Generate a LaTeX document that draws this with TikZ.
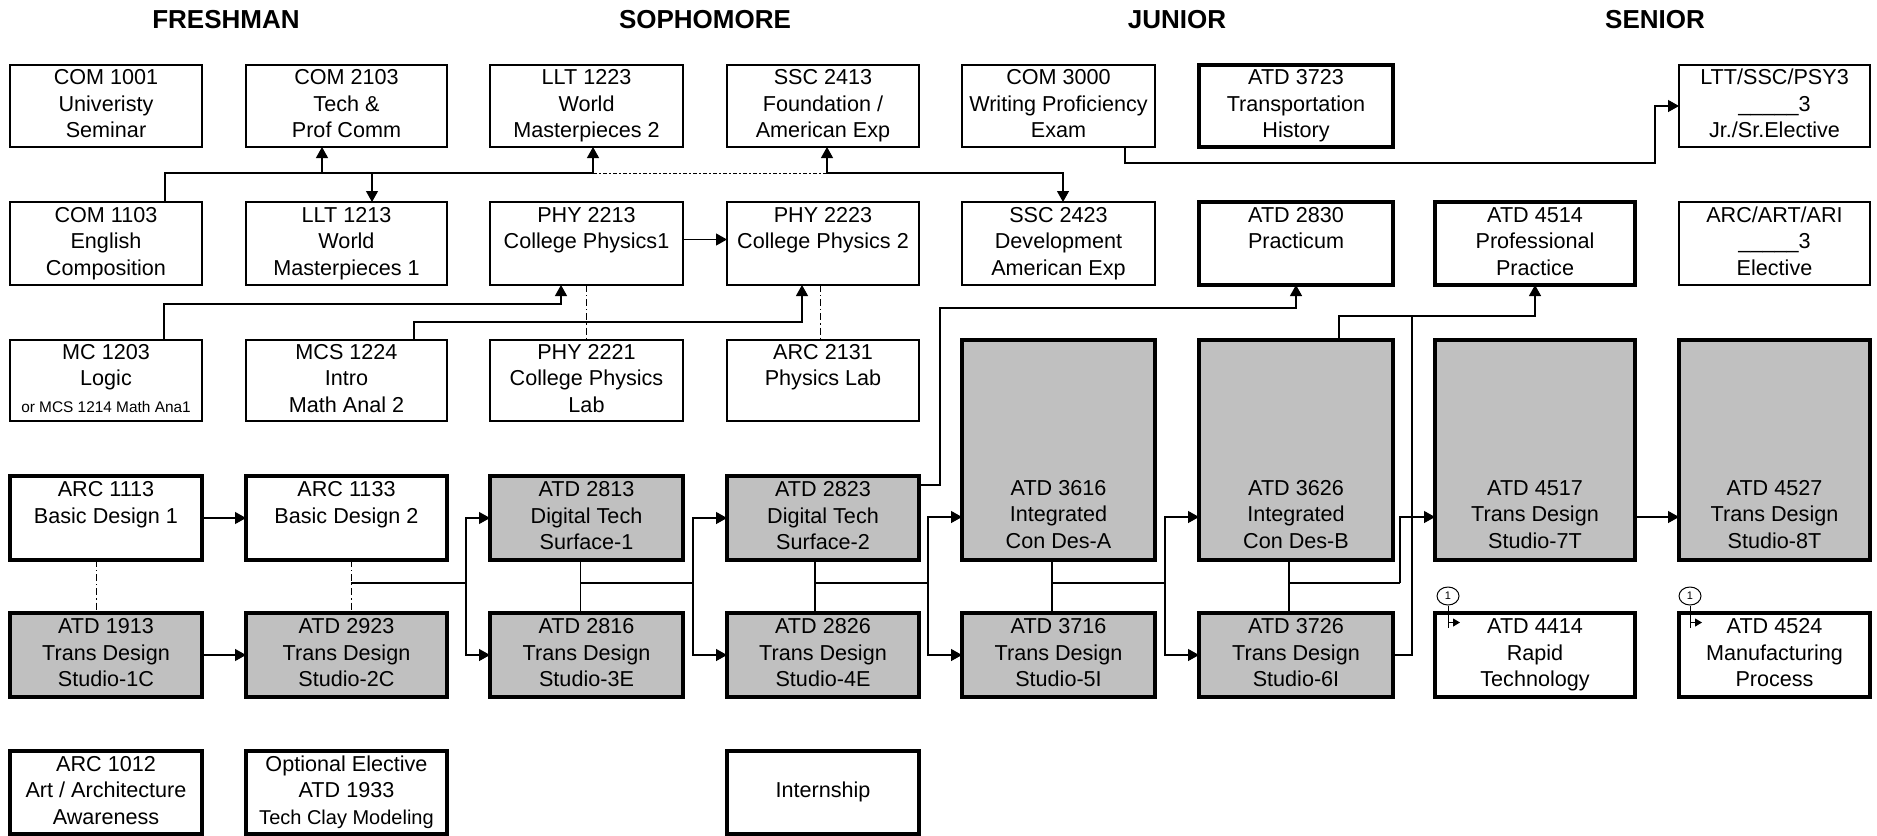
\documentclass[tikz,border=0pt]{standalone}
\usepackage{fontspec}
\setmainfont{Liberation Sans}
\usetikzlibrary{arrows.meta,shapes.geometric}
\definecolor{boxgrey}{RGB}{192,192,192}
\newcommand\tb[1]{\begin{tabular}{@{}c@{}}#1\end{tabular}}
\begin{document}
\begin{tikzpicture}[x=0.5pt,y=-0.5pt,
  box/.style={rectangle, inner sep=0pt, outer sep=0pt, font=\fontsize{10.8}{13.25}\selectfont},
  thinbox/.style={box, draw=black, line width=0.7pt},
  thickbox/.style={box, draw=black, line width=1.8pt},
  greybox/.style={thickbox, fill=boxgrey},
  colA/.style={minimum width=96pt}, colB/.style={minimum width=100.5pt},
  colC/.style={minimum width=96.5pt}, colD/.style={minimum width=96pt},
  colE/.style={minimum width=96.5pt}, colF/.style={minimum width=97pt},
  colG/.style={minimum width=100pt}, colH/.style={minimum width=95.5pt},
  rowA/.style={minimum height=41pt}, rowB/.style={minimum height=41.5pt},
  rowC/.style={minimum height=40.5pt}, rowD/.style={minimum height=42pt},
  rowE/.style={minimum height=42pt}, rowF/.style={minimum height=41.5pt},
  rowT/.style={minimum height=110pt},
  head/.style={font=\fontsize{13}{15}\selectfont\bfseries, inner sep=0pt},
  link/.style={draw=black, line width=0.6pt},
  arr/.style={link, -{Triangle[length=5.5pt,width=6pt]}},
  dashdot/.style={draw=black, line width=0.5pt, dash pattern=on 2pt off 1.2pt on 0.6pt off 1.2pt},
  vdashdot/.style={draw=black, line width=0.5pt, dash pattern=on 3.5pt off 1.5pt on 0.6pt off 1.5pt},
  marker/.style={draw=black, ellipse, line width=0.5pt, inner sep=0pt, minimum width=11pt, minimum height=9pt, font=\fontsize{5.5}{6}\selectfont},
  smallarr/.style={draw=black, line width=0.5pt, -{Triangle[length=3.5pt,width=4pt]}},
]
\useasboundingbox (0,0) rectangle (1877,835);

% headings
\node[head] (hfr) at (226,20) {FRESHMAN};
\node[head] (hso) at (705,20) {SOPHOMORE};
\node[head] (hju) at (1177,20) {JUNIOR};
\node[head] (hse) at (1655,20) {SENIOR};

% row 1
\node[thinbox, colA, rowA] (com1001) at (106,106) {\tb{COM 1001\\Univeristy\\Seminar}};
\node[thinbox, colB, rowA] (com2103) at (346.5,106) {\tb{COM 2103\\Tech \&\\Prof Comm}};
\node[thinbox, colC, rowA] (llt1223) at (586.5,106) {\tb{LLT 1223\\World\\Masterpieces 2}};
\node[thinbox, colD, rowA] (ssc2413) at (823,106) {\tb{SSC 2413\\Foundation /\\American Exp}};
\node[thinbox, colE, rowA] (com3000) at (1058.5,106) {\tb{COM 3000\\Writing Proficiency\\Exam}};
\node[thickbox, colF, rowA] (atd3723) at (1296,106) {\tb{ATD 3723\\Transportation\\History}};
\node[thinbox, colH, rowA] (ltt) at (1774.5,106) {\tb{LTT/SSC/PSY3\\\_\_\_\_\_3\\Jr./Sr.Elective}};

% row 2
\node[thinbox, colA, rowB] (com1103) at (106,243.5) {\tb{COM 1103\\English\\Composition}};
\node[thinbox, colB, rowB] (llt1213) at (346.5,243.5) {\tb{LLT 1213\\World\\Masterpieces 1}};
\node[thinbox, colC, rowB] (phy2213) at (586.5,243.5) {\tb{PHY 2213\\College Physics1\\\mbox{}}};
\node[thinbox, colD, rowB] (phy2223) at (823,243.5) {\tb{PHY 2223\\College Physics 2\\\mbox{}}};
\node[thinbox, colE, rowB] (ssc2423) at (1058.5,243.5) {\tb{SSC 2423\\Development\\American Exp}};
\node[thickbox, colF, rowB] (atd2830) at (1296,243.5) {\tb{ATD 2830\\Practicum\\\mbox{}}};
\node[thickbox, colG, rowB] (atd4514) at (1535,243.5) {\tb{ATD 4514\\Professional\\Practice}};
\node[thinbox, colH, rowB] (arcart) at (1774.5,243.5) {\tb{ARC/ART/ARI\\\_\_\_\_\_3\\Elective}};

% row 3
\node[thinbox, colA, rowC] (mc1203) at (106,380.5) {\tb{MC 1203\\Logic\\\fontsize{7.7}{13.25}\selectfont or MCS 1214 Math Ana1}};
\node[thinbox, colB, rowC] (mcs1224) at (346.5,380.5) {\tb{MCS 1224\\Intro\\Math Anal 2}};
\node[thinbox, colC, rowC] (phy2221) at (586.5,380.5) {\tb{PHY 2221\\College Physics\\Lab}};
\node[thinbox, colD, rowC] (arc2131) at (823,380.5) {\tb{ARC 2131\\Physics Lab\\\mbox{}}};

% tall studios
\node[greybox, colE, rowT] (atd3616) at (1058.5,450) {\tb{\mbox{}\\\mbox{}\\\mbox{}\\\mbox{}\\\mbox{}\\ATD 3616\\Integrated\\Con Des-A}};
\node[greybox, colF, rowT] (atd3626) at (1296,450) {\tb{\mbox{}\\\mbox{}\\\mbox{}\\\mbox{}\\\mbox{}\\ATD 3626\\Integrated\\Con Des-B}};
\node[greybox, colG, rowT] (atd4517) at (1535,450) {\tb{\mbox{}\\\mbox{}\\\mbox{}\\\mbox{}\\\mbox{}\\ATD 4517\\Trans Design\\Studio-7T}};
\node[greybox, colH, rowT] (atd4527) at (1774.5,450) {\tb{\mbox{}\\\mbox{}\\\mbox{}\\\mbox{}\\\mbox{}\\ATD 4527\\Trans Design\\Studio-8T}};

% row 4
\node[thickbox, colA, rowD] (arc1113) at (106,518) {\tb{ARC 1113\\Basic Design 1\\\mbox{}}};
\node[thickbox, colB, rowD] (arc1133) at (346.5,518) {\tb{ARC 1133\\Basic Design 2\\\mbox{}}};
\node[greybox, colC, rowD] (atd2813) at (586.5,518) {\tb{ATD 2813\\Digital Tech\\Surface-1}};
\node[greybox, colD, rowD] (atd2823) at (823,518) {\tb{ATD 2823\\Digital Tech\\Surface-2}};

% row 5
\node[greybox, colA, rowE] (atd1913) at (106,655) {\tb{ATD 1913\\Trans Design\\Studio-1C}};
\node[greybox, colB, rowE] (atd2923) at (346.5,655) {\tb{ATD 2923\\Trans Design\\Studio-2C}};
\node[greybox, colC, rowE] (atd2816) at (586.5,655) {\tb{ATD 2816\\Trans Design\\Studio-3E}};
\node[greybox, colD, rowE] (atd2826) at (823,655) {\tb{ATD 2826\\Trans Design\\Studio-4E}};
\node[greybox, colE, rowE] (atd3716) at (1058.5,655) {\tb{ATD 3716\\Trans Design\\Studio-5I}};
\node[greybox, colF, rowE] (atd3726) at (1296,655) {\tb{ATD 3726\\Trans Design\\Studio-6I}};
\node[thickbox, colG, rowE] (atd4414) at (1535,655) {\tb{ATD 4414\\Rapid\\Technology}};
\node[thickbox, colH, rowE] (atd4524) at (1774.5,655) {\tb{ATD 4524\\Manufacturing\\Process}};

% row 6
\node[thickbox, colA, rowF] (arc1012) at (106,792.5) {\tb{ARC 1012\\Art / Architecture\\Awareness}};
\node[thickbox, colB, rowF] (opt) at (346.5,792.5) {\tb{Optional Elective\\ATD 1933\\\fontsize{10}{13.25}\selectfont Tech Clay Modeling}};
\node[thickbox, colD, rowF] (intern) at (823,792.5) {\tb{Internship}};

% helper coordinates
\coordinate (bus) at (0,173);
\coordinate (mid) at (0,583);
\coordinate (r4) at (0,517);

% bus from COM 1103
\coordinate (sC1103) at ([xshift=29.5pt]com1103.north);
\coordinate (eC2103) at ([xshift=-12.25pt]com2103.south);
\coordinate (eL1213) at ([xshift=12.75pt]llt1213.north);
\coordinate (eL1223) at ([xshift=3.25pt]llt1223.south);
\coordinate (eS2413) at ([xshift=2pt]ssc2413.south);
\coordinate (eS2423) at ([xshift=2.25pt]ssc2423.north);
\draw[link] (sC1103) |- (eL1223 |- bus);
\draw[arr] (eC2103 |- bus) -- (eC2103);
\draw[arr] (eL1213 |- bus) -- (eL1213);
\draw[arr] (eL1223 |- bus) -- (eL1223);
\draw[dashdot] (eL1223 |- bus) -- (eS2413 |- bus);
\draw[arr] (eS2413 |- bus) -- (eS2413);
\draw[arr] (eS2413 |- bus) -| (eS2423);

% COM 3000 -> LTT
\coordinate (w1) at (1655,163);
\draw[arr] ([xshift=33.25pt]com3000.south) |- (w1) |- (ltt.west);

% physics
\draw[arr] ([yshift=2pt]phy2213.east) -- ([yshift=2pt]phy2223.west);
\draw[arr] ([xshift=29pt]mc1203.north) -- ++(0,-36) -| ([xshift=-12.75pt]phy2213.south);
\draw[arr] ([xshift=33.75pt]mcs1224.north) -- ++(0,-18) -| ([xshift=-10.5pt]phy2223.south);
\draw[vdashdot] (phy2213.south) -- (phy2221.north);
\draw[vdashdot] ([xshift=-1.5pt]phy2223.south) -- ([xshift=-1.5pt]arc2131.north);

% design sequence
\draw[vdashdot] ([xshift=-5pt]arc1113.south) -- ([xshift=-5pt]atd1913.north);
\coordinate (d2) at ([xshift=2.25pt]arc1133.south);
\draw[vdashdot] (d2) -- ([xshift=2.25pt]atd2923.north);
\draw[arr] (arc1113.east) -- (arc1133.west);
\draw[arr] (atd1913.east) -- (atd2923.west);

\coordinate (v2) at (466,583);
\draw[link] (d2 |- mid) -- (v2);
\draw[arr] (v2) |- (atd2813.west);
\draw[arr] (v2) |- (atd2816.west);

\coordinate (k3) at ([xshift=-3pt]atd2813.south);
\draw[link] (k3) -- ([xshift=-3pt]atd2816.north);
\coordinate (v3) at (693,583);
\draw[link] (k3 |- mid) -- (v3);
\draw[arr] (v3) |- (atd2823.west);
\draw[arr] (v3) |- (atd2826.west);

\coordinate (k4) at ([xshift=-4pt]atd2823.south);
\draw[link] (k4) -- ([xshift=-4pt]atd2826.north);
\coordinate (v4) at (928,583);
\draw[link] (k4 |- mid) -- (v4);
\draw[arr] (v4) |- (atd3616.west |- r4);
\draw[arr] (v4) |- (atd3716.west);

\coordinate (k5) at ([xshift=-3.25pt]atd3616.south);
\draw[link] (k5) -- ([xshift=-3.25pt]atd3716.north);
\coordinate (v5) at (1165,583);
\draw[link] (k5 |- mid) -- (v5);
\draw[arr] (v5) |- (atd3626.west |- r4);
\draw[arr] (v5) |- (atd3726.west);

\coordinate (k6) at ([xshift=-3.5pt]atd3626.south);
\draw[link] (k6) -- ([xshift=-3.5pt]atd3726.north);
\coordinate (v6) at (1400,583);
\draw[link] (k6 |- mid) -- (v6);
\draw[arr] (v6) |- (atd4517.west |- r4);

\draw[arr] (atd4517.east |- r4) -- (atd4527.west |- r4);

% practicum / professional practice
\coordinate (g1) at (940,308);
\draw[arr] ([yshift=16.5pt]atd2823.east) -| (g1) -| (atd2830.south);
\draw[arr] ([xshift=21.5pt]atd3626.north) -- ++(0,-24) -| (atd4514.south);
\coordinate (i1) at (1412,316);
\draw[link] (atd3726.east) -| (i1);

% markers
\node[marker] (m1) at (1448,596) {1};
\draw[smallarr, -] (m1.south) -- ++(0,22);
\draw[smallarr] (m1.south) ++(0,17) -- ++(12,0);
\node[marker] (m2) at (1690,596) {1};
\draw[smallarr, -] (m2.south) -- ++(0,22);
\draw[smallarr] (m2.south) ++(0,17) -- ++(12,0);
\end{tikzpicture}
\end{document}
